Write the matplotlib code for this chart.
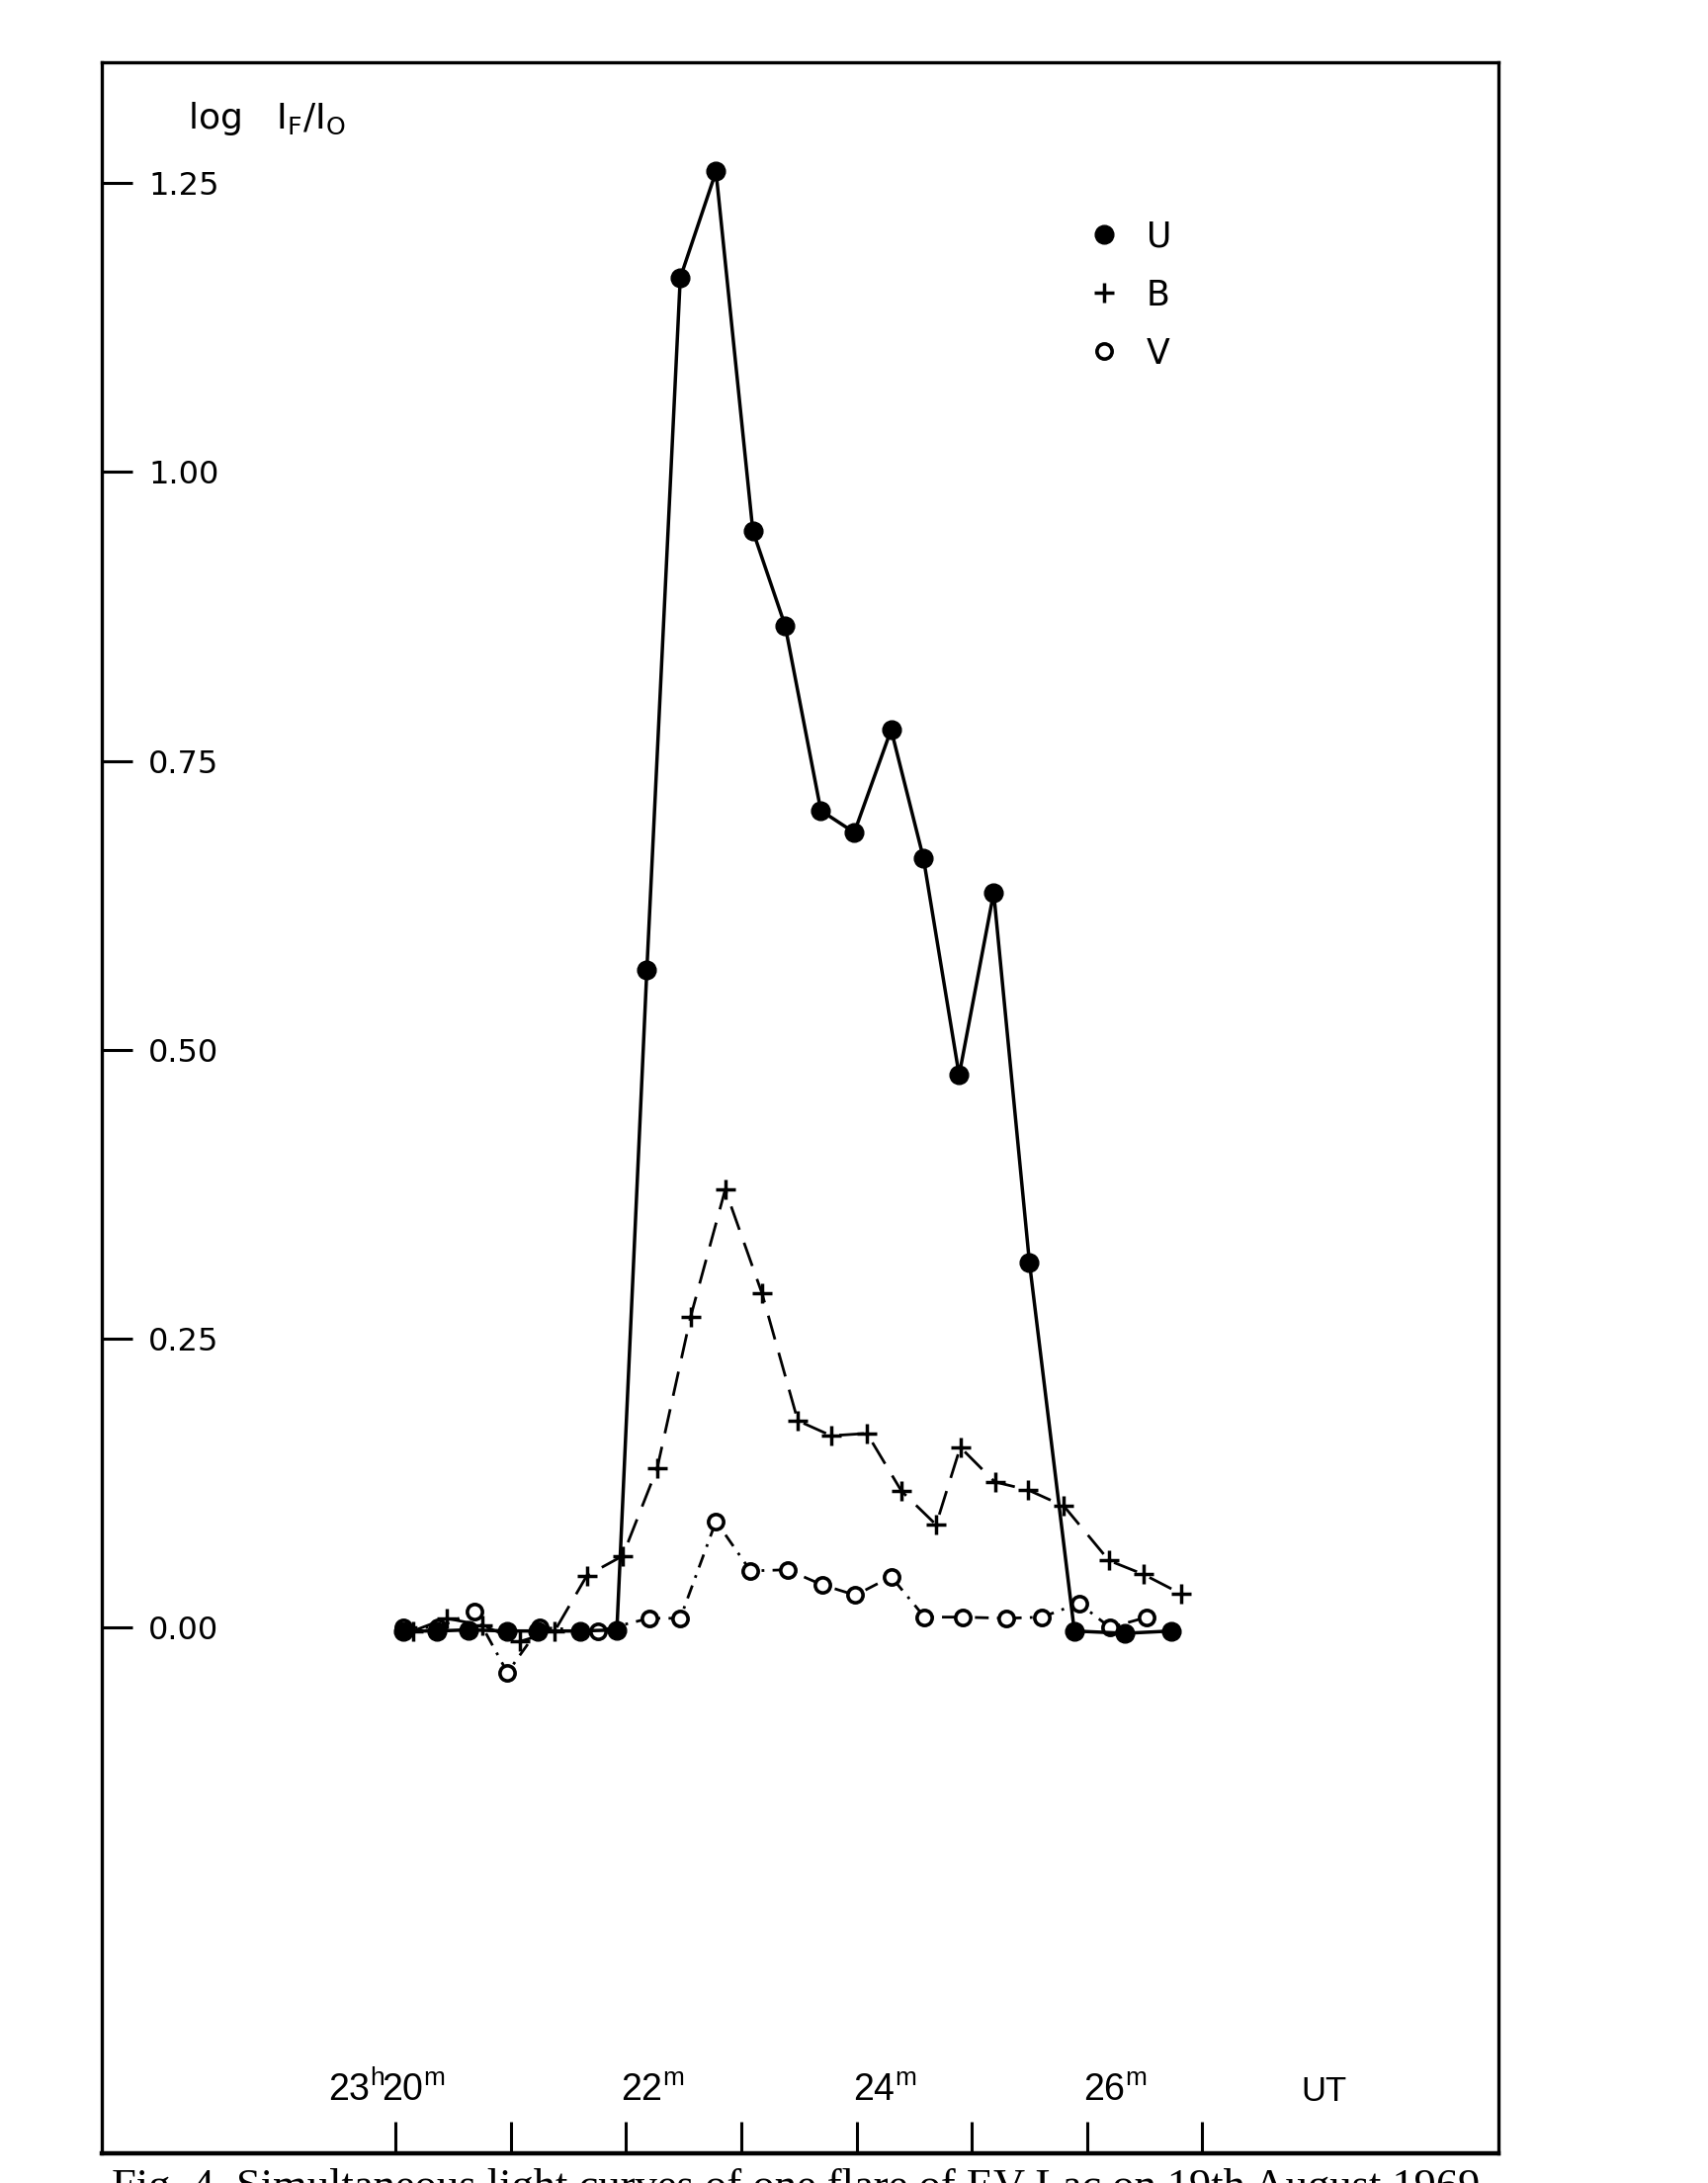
import numpy as np
import matplotlib.pyplot as plt
from matplotlib.lines import Line2D

plt.rcParams['font.family'] = ['DejaVu Sans']
plt.rcParams['mathtext.default'] = 'regular'
narrow = ['Liberation Sans', 'DejaVu Sans']

# time in minutes after 23h UT, log(I_F/I_0)
t_u = [20.07, 20.36, 20.63, 20.97, 21.23, 21.60, 21.92, 22.18, 22.47, 22.78, 23.10,
       23.38, 23.69, 23.98, 24.30, 24.58, 24.89, 25.19, 25.50, 25.89, 26.33, 26.73]
log_u = [-0.003, -0.003, -0.002, -0.003, -0.003, -0.003, -0.002, 0.569, 1.168, 1.260, 0.949,
         0.867, 0.707, 0.688, 0.777, 0.666, 0.478, 0.636, 0.316, -0.003, -0.005, -0.003]

t_b = [20.15, 20.44, 20.75, 21.08, 21.38, 21.66, 21.97, 22.27, 22.56, 22.86, 23.18, 23.49,
       23.78, 24.09, 24.39, 24.69, 24.90, 25.20, 25.49, 25.80, 26.19, 26.49, 26.82]
log_b = [-0.003, 0.008, 0.002, -0.012, -0.003, 0.045, 0.062, 0.138, 0.269, 0.379, 0.289, 0.179,
         0.166, 0.168, 0.118, 0.089, 0.156, 0.126, 0.119, 0.105, 0.058, 0.046, 0.029]

t_v = [20.07, 20.37, 20.68, 20.97, 21.25, 21.76, 22.20, 22.47, 22.78, 23.08, 23.40,
       23.70, 23.99, 24.30, 24.59, 24.92, 25.30, 25.61, 25.93, 26.20, 26.52]
log_v = [0.0, 0.0, 0.014, -0.039, 0.0, -0.003, 0.008, 0.008, 0.092, 0.049, 0.050,
         0.037, 0.028, 0.044, 0.009, 0.009, 0.008, 0.009, 0.021, 0.0, 0.009]

y_ticks = [0.0, 0.25, 0.50, 0.75, 1.00, 1.25]
x_ticks = [20, 21, 22, 23, 24, 25, 26, 27]
x_labels = {19.88: '$20^{m}$', 21.95: '$22^{m}$', 23.97: '$24^{m}$', 25.97: '$26^{m}$'}

fig = plt.figure(figsize=(17.28, 22.08), dpi=100)
ax = fig.add_axes([0.0596, 0.0136, 0.8177, 0.9579])

ax.plot(t_b, log_b, color='k', lw=2.0, dashes=(9, 5), marker='+', ms=14, mew=2.5, zorder=2)
ax.plot(t_v, log_v, color='k', lw=2.0, dashes=(5, 3, 1, 3), marker='o', ms=11,
        mfc='white', mec='k', mew=2.6, zorder=2)
ax.plot(t_u, log_u, color='k', lw=2.5, marker='o', ms=13.5, mfc='k', mec='k', zorder=3)

ax.set_xlim(17.45, 29.57)
ax.set_ylim(-0.455, 1.3546)

for s in ax.spines.values():
    s.set_linewidth(2.4)
ax.spines['bottom'].set_linewidth(3.2)

# y ticks inside, labels to the right of the tick
ax.set_yticks(y_ticks, ['%.2f' % v for v in y_ticks])
ax.tick_params(axis='y', direction='in', length=22, width=2.2, pad=-34, labelsize=23)
for lab in ax.get_yticklabels():
    lab.set_ha('left')

# x ticks inside, labels drawn above them
ax.set_xticks(x_ticks, [''] * len(x_ticks))
ax.tick_params(axis='x', direction='in', length=23, width=2.2)
tr = ax.get_xaxis_transform()
for t, lab in x_labels.items():
    ax.text(t, 0.025, lab, transform=tr, ha='left', va='baseline', fontsize=27, family=narrow)
ax.text(19.90, 0.025, '$23^{h}$', transform=tr, ha='right', va='baseline', fontsize=27,
        family=narrow)
ax.text(28.06, 0.025, 'UT', transform=tr, ha='center', va='baseline', fontsize=25,
        family=narrow)

ax.text(0.0616, 0.9685, r'log   $I_F/I_O$', transform=ax.transAxes, ha='left',
        va='baseline', fontsize=26)

handles = [Line2D([], [], ls='none', marker='o', ms=13.5, color='k'),
           Line2D([], [], ls='none', marker='+', ms=14, mew=2.5, color='k'),
           Line2D([], [], ls='none', marker='o', ms=11, mfc='white', mec='k', mew=2.6)]
ax.legend(handles, ['U', 'B', 'V'], loc='upper left', bbox_to_anchor=(0.705, 0.9245),
          frameon=False, fontsize=25, handlelength=1.0, handletextpad=0.75,
          labelspacing=0.72, borderpad=0, borderaxespad=0)

fig.text(0.466, 1 - 2193 / 2208, 'Fig. 4  Simultaneous light curves of one flare of EV Lac on 19th August 1969',
         ha='center', va='top', fontsize=32, family='Liberation Serif')

plt.savefig('out.png', dpi=100)
